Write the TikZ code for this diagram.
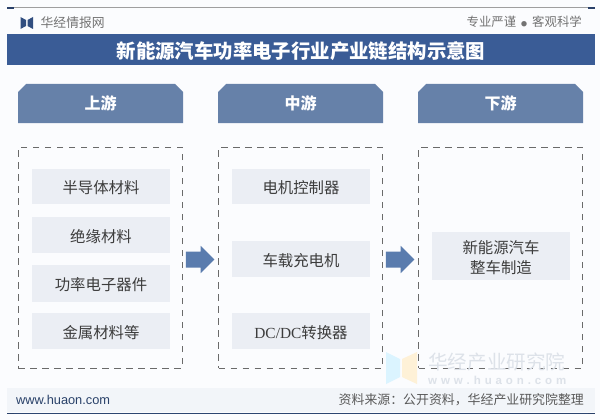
\documentclass[tikz,border=0pt]{standalone}
\usepackage{fontspec}
\setmainfont{Noto Sans CJK SC}
\newfontfamily\latinf{Liberation Sans}
\newfontfamily\seriff{Liberation Serif}
\usetikzlibrary{shapes.arrows,shapes.misc,calc}
\definecolor{bandblue}{HTML}{3A5C96}
\definecolor{headblue}{HTML}{6681A9}
\definecolor{arrowblue}{HTML}{5A7CAE}
\definecolor{itemgrey}{HTML}{EBEEF4}
\definecolor{pagebg}{HTML}{FBFCFE}
\definecolor{footbg}{HTML}{F1F4F9}
\definecolor{txt}{HTML}{3C3C3C}
\definecolor{dashc}{HTML}{6A6A6A}
\definecolor{wmgrey}{HTML}{DDE2E9}
\newcommand{\lowered}[1]{\raisebox{-1.5pt}[\height][\depth]{#1}}
\tikzset{
  x=1pt,y=-1pt,
  headbox/.style={fill=headblue,draw=none,chamfered rectangle,chamfered rectangle corners={north west,north east},chamfered rectangle xsep=4pt,chamfered rectangle ysep=4pt,minimum width=165pt,minimum height=39pt,inner sep=0pt,text=white,font=\fontsize{16}{16}\selectfont\bfseries},
  framebox/.style={draw=dashc,line width=0.8pt,dash pattern=on 6.5pt off 5.5pt,minimum width=164pt,minimum height=221pt,inner sep=0pt},
  itembox/.style={fill=itemgrey,draw=none,minimum width=138pt,inner sep=0pt,text=txt,font=\fontsize{15.4}{20.5}\selectfont,align=center},
  flowarrow/.style={single arrow,fill=arrowblue,draw=none,inner xsep=0pt,inner ysep=7.8pt,minimum height=28.5pt,single arrow head extend=5.7pt,single arrow tip angle=90},
}
\begin{document}
\begin{tikzpicture}
\useasboundingbox (0,0) rectangle (600,420);
\fill[pagebg] (0,0) rectangle (600,420);
% top rule
\draw[line width=1pt,color=gray!75] (8,8) -- (594,8);
\draw[line width=1.6pt,color=bandblue!70!black] (7,8) -- (14,8);
\draw[line width=1.6pt,color=bandblue!70!black] (588,8) -- (595,8);
% logo
\fill[bandblue!85!black] (20.5,17) -- (26,20) -- (26,26) -- (20.5,29) -- cycle;
\fill[bandblue!85!black] (33,17) -- (27.5,20) -- (27.5,26) -- (33,29) -- cycle;
\node[anchor=west,inner sep=0pt,text=gray!90!black,font=\fontsize{12.8}{13}\selectfont] (brand) at (40.5,23) {华经情报网};
\node[anchor=east,inner sep=0pt,text=gray!90!black,font=\fontsize{12.4}{13}\selectfont] (motto) at (582,22) {专业严谨\hspace{5pt}{\fontsize{6}{6}\selectfont ●}\hspace{5pt}客观科学};
% title band
\node[fill=bandblue,minimum width=588pt,minimum height=31pt,inner sep=0pt,text=white,font=\fontsize{19.4}{20}\selectfont\bfseries] (title) at (301,50) {\lowered{新能源汽车功率电子行业产业链结构示意图}};
% headers
\node[headbox] (h1) at (100.5,103.5) {上游};
\node[headbox] (h2) at (300.5,103.5) {中游};
\node[headbox] (h3) at (500.5,103.5) {下游};
% dashed frames
\node[framebox] (f1) at (100,257.5) {};
\node[framebox] (f2) at (300.5,257.5) {};
\node[framebox] (f3) at (500.5,257.5) {};
% items
\node[itembox,minimum height=35pt] (a1) at (101,186.5) {\lowered{半导体材料}};
\node[itembox,minimum height=36pt] (a2) at (101,235) {\lowered{绝缘材料}};
\node[itembox,minimum height=37pt] (a3) at (101,283.5) {\lowered{功率电子器件}};
\node[itembox,minimum height=36pt] (a4) at (101,331) {\lowered{金属材料等}};
\node[itembox,minimum height=35pt] (b1) at (301,186.5) {\lowered{电机控制器}};
\node[itembox,minimum height=36pt] (b2) at (301,259) {\lowered{车载充电机}};
\node[itembox,minimum height=36pt] (b3) at (301,331) {\lowered{{\seriff DC/DC}转换器}};
\node[itembox,minimum height=48pt] (c1) at (501,256) {\lowered{新能源汽车}\\\lowered{整车制造}};
% arrows
\node[flowarrow] (ar1) at (196,259.5) {};
\node[flowarrow] (ar2) at (396,259.5) {};
% watermark
\fill[blue!30!cyan!14] (386,352) -- (400,359) -- (400,377) -- (386,384) -- cycle;
\fill[yellow!30!orange!14] (417,352) -- (402,359) -- (402,377) -- (417,384) -- cycle;
\node[anchor=west,inner sep=0pt,text=wmgrey,font=\fontsize{19.6}{20}\selectfont] (wm1) at (428,362) {华经产业研究院};
\node[anchor=west,inner sep=0pt,text=wmgrey,font=\fontsize{11.5}{12}\selectfont\latinf\bfseries] (wm2) at (428,380.5) {w\hspace{3.9pt}w\hspace{3.9pt}w\hspace{3.9pt}.\hspace{3.9pt}h\hspace{3.9pt}u\hspace{3.9pt}a\hspace{3.9pt}o\hspace{3.9pt}n\hspace{3.9pt}.\hspace{3.9pt}c\hspace{3.9pt}o\hspace{3.9pt}m};
% footer
\fill[footbg,opacity=0.85] (7,388) rectangle (595,412);
\node[anchor=west,inner sep=0pt,text=bandblue!70!black,font=\fontsize{12.8}{13}\selectfont\latinf] (url) at (16,400) {www.huaon.com};
\node[anchor=east,inner sep=0pt,text=txt!85,font=\fontsize{12.9}{13}\selectfont] (src) at (584,400) {资料来源：公开资料，华经产业研究院整理};
\draw[line width=1pt,color=bandblue!75!black] (8,413.5) -- (594,413.5);
\draw[line width=1.6pt,color=bandblue!70!black] (7,413.5) -- (14,413.5);
\draw[line width=1.6pt,color=bandblue!70!black] (588,413.5) -- (595,413.5);
\end{tikzpicture}
\end{document}
